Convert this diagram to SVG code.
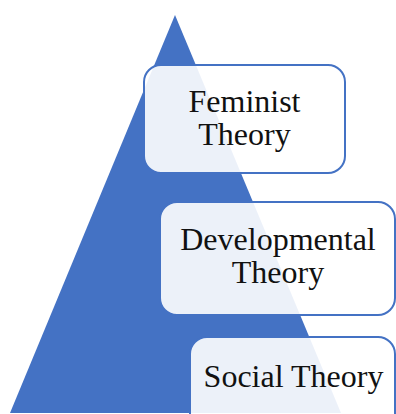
<svg xmlns="http://www.w3.org/2000/svg" width="396" height="414" viewBox="0 0 396 414">
  <style>
    .box { fill: #ffffff; fill-opacity: 0.9; stroke: #4472C4; stroke-width: 2; }
    .label { font-family: "Liberation Serif", "Times New Roman", serif; font-size: 32px; fill: #111111; text-anchor: middle; }
  </style>
  <rect width="396" height="414" fill="#ffffff"/>
  <!-- pyramid -->
  <polygon points="175,15 10,413 341,413" fill="#4472C4"/>
  <g id="node-feminist">
    <rect class="box" x="144" y="65" width="201" height="108" rx="17"/>
    <text class="label" x="244.5" y="112">Feminist</text>
    <text class="label" x="244.5" y="145">Theory</text>
  </g>
  <g id="node-developmental">
    <rect class="box" x="160" y="202" width="235" height="113" rx="17"/>
    <text class="label" x="278" y="250">Developmental</text>
    <text class="label" x="278" y="283">Theory</text>
  </g>
  <g id="node-social">
    <rect class="box" x="190" y="337" width="205" height="113" rx="17"/>
    <text class="label" x="293.5" y="387">Social Theory</text>
  </g>
  <g id="connectors"/>
</svg>
